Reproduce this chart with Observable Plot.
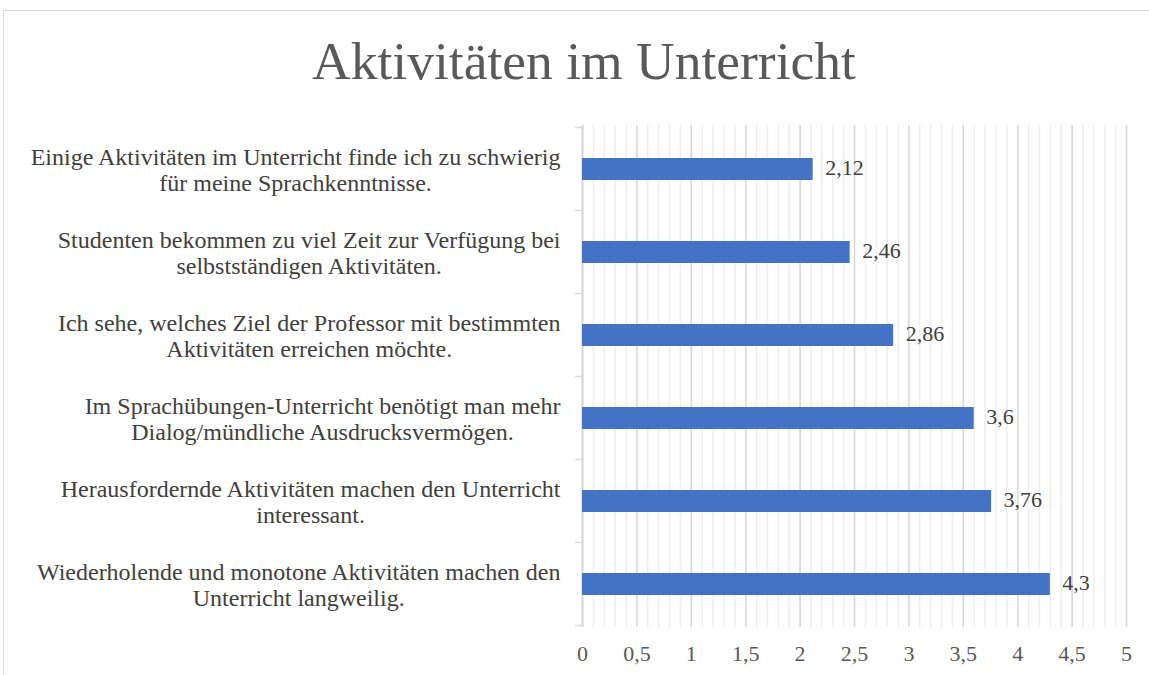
<!DOCTYPE html>
<html><head><meta charset="utf-8">
<script src="https://cdn.jsdelivr.net/npm/d3@7"></script>
<script src="https://cdn.jsdelivr.net/npm/@observablehq/plot@0.6"></script>
<style>
body{margin:0;background:#fff;}
#wrap{position:relative;width:1149px;height:675px;overflow:hidden;font-family:"Liberation Serif","Times New Roman",serif;}
#frame{position:absolute;left:3px;top:10px;width:1200px;height:700px;border:1px solid #d9d9d9;box-sizing:border-box;}
#title{position:absolute;left:0;top:31px;width:1168px;text-align:center;font-size:53.5px;line-height:60px;color:#595959;}
#chart{position:absolute;left:0;top:100px;}
</style>
</head><body>
<div id="wrap"><div id="frame"></div><div id="title">Aktivitäten im Unterricht</div><div id="chart"></div></div>
<script>
const statements = [
  "Einige Aktivitäten im Unterricht finde ich zu schwierig\nfür meine Sprachkenntnisse.",
  "Studenten bekommen zu viel Zeit zur Verfügung bei\nselbstständigen Aktivitäten.",
  "Ich sehe, welches Ziel der Professor mit bestimmten\nAktivitäten erreichen möchte.",
  "Im Sprachübungen-Unterricht benötigt man mehr\nDialog/mündliche Ausdrucksvermögen.",
  "Herausfordernde Aktivitäten machen den Unterricht\ninteressant.",
  "Wiederholende und monotone Aktivitäten machen den\nUnterricht langweilig."
];
const means = [2.12, 2.46, 2.86, 3.6, 3.76, 4.3];
const xTicks = [0, 0.5, 1, 1.5, 2, 2.5, 3, 3.5, 4, 4.5, 5];
const minorTicks = d3.ticks(0, 5, 50);

const data = statements.map((s, i) => ({s, v: means[i]}));
const fmt = v => String(v).replace(".", ",");
const font = '"Liberation Serif","Times New Roman",serif';

function boundaryTicks(index, scales, values, dims) {
  const y = scales.y;
  const step = y(statements[1]) - y(statements[0]);
  const bw = y.bandwidth ? y.bandwidth() : 22;
  const gap = (step - bw) / 2;
  const ys = statements.map(s => y(s) - gap).concat([y(statements[statements.length - 1]) + bw + gap]);
  const g = d3.create("svg:g");
  g.selectAll("line").data(ys).join("line")
    .attr("x1", dims.marginLeft - 7).attr("x2", dims.marginLeft)
    .attr("y1", d => d).attr("y2", d => d)
    .attr("stroke", "#d9d9d9").attr("stroke-width", 1.5);
  return g.node();
}

const chart = Plot.plot({
  width: 1149, height: 575,
  marginTop: 25, marginBottom: 48, marginLeft: 582, marginRight: 23,
  style: {fontFamily: font, fontSize: "22px", color: "#595959", background: "transparent"},
  x: {domain: [0, 5], label: null},
  y: {domain: statements, paddingInner: 0.74, paddingOuter: 0.37, label: null},
  marks: [
    Plot.gridX(minorTicks, {stroke: "#eeeeee", strokeOpacity: 1, strokeWidth: 1.5}),
    Plot.gridX(xTicks, {stroke: "#d9d9d9", strokeOpacity: 1, strokeWidth: 1.5}),
    Plot.ruleX([0], {stroke: "#d9d9d9", strokeWidth: 2}),
    Plot.axisX(xTicks, {tickSize: 0, tickPadding: 18, tickFormat: fmt, fill: "#595959", fontSize: 22, label: null}),
    Plot.axisY({tickSize: 0, tickPadding: 22, lineHeight: 1.09, fill: "#404040", fontSize: 24, label: null}),
    boundaryTicks,
    Plot.barX(data, {x: "v", y: "s", fill: "#4472C4"}),
    Plot.text(data, {x: "v", y: "s", text: d => fmt(d.v), textAnchor: "start", dx: 12, dy: -2, fill: "#404040", fontSize: 22})
  ]
});
document.getElementById("chart").appendChild(chart);

// center the lines of each category label within a right-aligned block
chart.querySelectorAll('g[aria-label="y-axis tick label"] text').forEach(t => {
  const spans = t.querySelectorAll("tspan");
  let L = 0;
  if (spans.length) spans.forEach(sp => { L = Math.max(L, sp.getComputedTextLength()); });
  else L = t.getComputedTextLength();
  t.setAttribute("text-anchor", "middle");
  const tr = t.getAttribute("transform") || "";
  t.setAttribute("transform", tr + ` translate(${-L / 2},0)`);
});
</script>
</body></html>
